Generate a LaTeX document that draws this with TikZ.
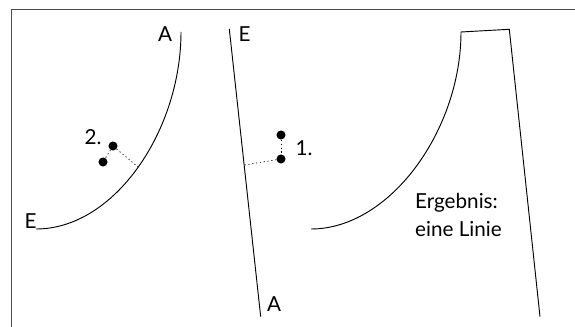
\documentclass[tikz,border=0pt]{standalone}
\usepackage{fontspec}
\setmainfont{Lato}
\usetikzlibrary{positioning, calc}

\begin{document}
\begin{tikzpicture}[
    x=0.75pt, y=-0.75pt,
    % --- Global styles ---
    every node/.style={font=\fontsize{15.5}{21}\selectfont},
    % --- Lines ---
    frameline/.style={draw=black!70, line width=1.3pt},
    seam/.style={draw=black, line width=0.7pt},
    helper/.style={draw=black, line width=0.5pt, dash pattern=on 0.9pt off 2pt},
    % --- Points ---
    dot/.style={circle, fill=black, inner sep=0pt, minimum size=6.8pt},
    lbl/.style={inner sep=0pt},
  ]
  \useasboundingbox (0,0) rectangle (575,327);

  % Frame
  \coordinate (framebottom) at (11.5,327);
  \coordinate (framecorner) at (11.5,9.5);
  \coordinate (frameright) at (575,9.5);
  \draw[frameline] (framebottom) -- (framecorner) -- (frameright);

  %% ---- Left curve ----
  \coordinate (curveA) at (181,32);
  \coordinate (curveE) at (36,229);
  \coordinate (curvefoot) at (138,167);
  \draw[seam] (curveA) .. controls (181,130) and (115,229) .. (curveE);
  \node[lbl] (labelA) at (165,34.5) {A};
  \node[lbl] (labelE) at (30.5,221) {E};

  % Point 2
  \node[dot] (dotb) at (113,146) {};
  \node[dot] (dotc) at (103,162) {};
  \node[lbl] (labeltwo) at (93,137) {2.};
  \draw[helper] (dotb) -- (dotc);
  \draw[helper] (dotb) -- (curvefoot);

  %% ---- Middle line ----
  \coordinate (lineE) at (229.3,29);
  \coordinate (lineA) at (260.7,316.7);
  \coordinate (linefoot) at (244.5,165);
  \draw[seam] (lineE) -- (lineA);
  \node[lbl] (labelEm) at (244.5,34.5) {E};
  \node[lbl] (labelAm) at (274,304.5) {A};

  % Point 1
  \node[dot] (dotd) at (281,135) {};
  \node[dot] (dote) at (281,159) {};
  \node[lbl] (labelone) at (304,148) {1.};
  \draw[helper] (dotd) -- (dote);
  \draw[helper] (dote) -- (linefoot);

  %% ---- Result ----
  \coordinate (resE) at (311,229);
  \coordinate (resA) at (461,32);
  \coordinate (restop) at (509.3,29.3);
  \coordinate (resend) at (540,316.7);
  \draw[seam] (resE) .. controls (390,229) and (461,130) .. (resA)
    -- (restop) -- (resend);
  \node[lbl, align=left] (result) at (458.5,215) {Ergebnis:\\eine Linie};

\end{tikzpicture}
\end{document}
